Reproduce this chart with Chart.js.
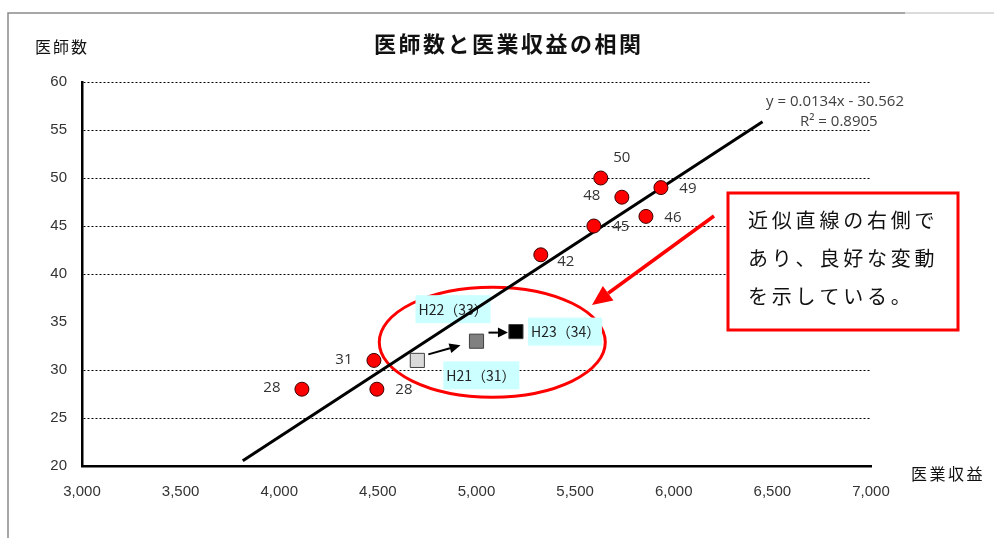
<!DOCTYPE html>
<html lang="ja">
<head>
<meta charset="utf-8">
<script src="https://cdn.jsdelivr.net/npm/chart.js@4/dist/chart.umd.min.js"></script>
<style>
html,body{margin:0;padding:0;background:#fff;}
#wrap{width:994px;height:538px;position:relative;}
canvas{display:block;}
</style>
</head>
<body>
<div id="wrap"><canvas id="c" width="994" height="538"></canvas></div>
<script>
// 医業収益と医師数（年度別）
const revenue = [4115, 4480, 4495, 5326, 5595, 5737, 5630, 5935, 5859];
const doctors = [28, 31, 28, 42, 45, 48, 50, 49, 46];
// where each value label sits around its point
const labelSide = ['left', 'left', 'right', 'rightLow', 'right', 'left', 'above', 'right', 'right'];

// 直近3年度の推移
const yearLabels = ['H21', 'H22', 'H23'];
const yearRevenue = [4700, 5000, 5200];
const yearDoctors = [31, 33, 34];
const yearFill = ['#d9d9d9', '#808080', '#000000'];

// 近似直線
const trendSlope = 0.0134;
const trendIntercept = -30.562;
const trendR2 = 0.8905;
const trendFrom = [3815, 6450];

// 軸目盛
const xTicks = [3000, 3500, 4000, 4500, 5000, 5500, 6000, 6500, 7000];
const yTicks = [20, 25, 30, 35, 40, 45, 50, 55, 60];
const hiddenGrid = [20, 35];

const JP = '"Noto Sans CJK JP", "Noto Sans", sans-serif';
const LAT = '"Open Sans", "Liberation Sans", sans-serif';

const mainPoints = revenue.map((v, i) => ({ x: v, y: doctors[i] }));
const yearPoints = yearRevenue.map((v, i) => ({ x: v, y: yearDoctors[i] }));
const trendPoints = trendFrom.map(v => ({ x: v, y: trendSlope * v + trendIntercept }));

function spaced(ctx, text, x, y, step) {
  [...text].forEach((ch, i) => ctx.fillText(ch, x + i * step, y));
}

function arrow(ctx, x1, y1, x2, y2, color, width, headLen, headHalf) {
  const a = Math.atan2(y2 - y1, x2 - x1);
  const bx = x2 - headLen * Math.cos(a), by = y2 - headLen * Math.sin(a);
  ctx.strokeStyle = color; ctx.fillStyle = color; ctx.lineWidth = width;
  ctx.beginPath(); ctx.moveTo(x1, y1); ctx.lineTo(bx, by); ctx.stroke();
  ctx.beginPath();
  ctx.moveTo(x2, y2);
  ctx.lineTo(bx + headHalf * Math.sin(a), by - headHalf * Math.cos(a));
  ctx.lineTo(bx - headHalf * Math.sin(a), by + headHalf * Math.cos(a));
  ctx.closePath(); ctx.fill();
}

const decor = {
  id: 'decor',
  beforeDatasetsDraw(chart) {
    const { ctx, scales: { x, y } } = chart;
    ctx.save();
    // 直近3年度を囲む楕円
    ctx.strokeStyle = '#ff0000';
    ctx.lineWidth = 3;
    ctx.beginPath();
    ctx.ellipse(x.getPixelForValue(5080), y.getPixelForValue(32.9), 113, 55, 0, 0, Math.PI * 2);
    ctx.stroke();
    // 年度ラベル
    const boxOff = [[26, 1, 76], [-61, -46, 75], [12, -14, 74]];
    ctx.font = '14px ' + JP;
    ctx.textBaseline = 'middle';
    ctx.textAlign = 'left';
    yearLabels.forEach((lab, i) => {
      const px = x.getPixelForValue(yearRevenue[i]);
      const py = y.getPixelForValue(yearDoctors[i]);
      const [dx, dy, w] = boxOff[i];
      ctx.fillStyle = '#ccffff';
      ctx.fillRect(px + dx, py + dy, w, 28);
      ctx.fillStyle = '#222';
      ctx.fillText(lab + '（' + yearDoctors[i] + '）', px + dx + 3, py + dy + 14);
    });
    ctx.restore();
  },
  afterDraw(chart) {
    const { ctx, scales: { x, y } } = chart;
    ctx.save();
    // 外枠
    ctx.lineWidth = 1.5;
    ctx.strokeStyle = '#8a8a8a';
    ctx.beginPath(); ctx.moveTo(8, 538); ctx.lineTo(8, 13); ctx.lineTo(905, 13); ctx.stroke();
    ctx.strokeStyle = '#cfcfcf';
    ctx.beginPath(); ctx.moveTo(905, 13); ctx.lineTo(994, 13); ctx.stroke();

    // タイトル・軸タイトル
    ctx.fillStyle = '#111';
    ctx.textBaseline = 'middle';
    ctx.textAlign = 'left';
    ctx.font = 'bold 22px ' + JP;
    spaced(ctx, '医師数と医業収益の相関', 374, 44, 24.5);
    ctx.font = '16px ' + JP;
    spaced(ctx, '医師数', 35, 47, 18);
    spaced(ctx, '医業収益', 911, 474, 18.5);

    // 値ラベル
    ctx.font = '15px ' + LAT;
    ctx.fillStyle = '#333';
    ctx.textAlign = 'center';
    const off = { left: [-30, -1], right: [27, 1], rightLow: [25, 7], above: [21, -20] };
    revenue.forEach((v, i) => {
      const [dx, dy] = off[labelSide[i]];
      ctx.fillText(String(doctors[i]), x.getPixelForValue(v) + dx, y.getPixelForValue(doctors[i]) + dy);
    });

    // 近似式
    ctx.font = '15px ' + LAT;
    ctx.fillStyle = '#404040';
    ctx.textAlign = 'left';
    ctx.fillText('y = ' + trendSlope + 'x - ' + Math.abs(trendIntercept), 766, 102);
    ctx.fillText('R² = ' + trendR2, 800, 122);

    // 年度間の矢印
    const p = yearRevenue.map((v, i) => [x.getPixelForValue(v), y.getPixelForValue(yearDoctors[i])]);
    arrow(ctx, p[0][0] + 11, p[0][1] - 6, p[1][0] - 16, p[1][1] + 4, '#000', 2, 11, 5);
    arrow(ctx, p[1][0] + 12, p[2][1] + 1, p[2][0] - 8, p[2][1] + 1, '#000', 2, 10, 5);

    // コメント枠
    ctx.fillStyle = '#fff';
    ctx.fillRect(728, 193, 230, 137);
    ctx.strokeStyle = '#ff0000';
    ctx.lineWidth = 3;
    ctx.strokeRect(728, 193, 230, 137);
    ctx.fillStyle = '#111';
    ctx.font = '20px ' + JP;
    ctx.textAlign = 'left';
    spaced(ctx, '近似直線の右側で', 748, 220, 23.8);
    spaced(ctx, 'あり、良好な変動', 748, 258, 23.8);
    spaced(ctx, 'を示している。', 748, 296, 23.8);

    // 赤矢印
    arrow(ctx, 714, 216, 592, 305, '#ff0000', 3.5, 20, 9);
    ctx.restore();
  }
};

new Chart(document.getElementById('c'), {
  type: 'scatter',
  data: {
    datasets: [
      {
        label: '近似直線',
        data: trendPoints,
        showLine: true,
        borderColor: '#000',
        borderWidth: 3,
        pointRadius: 0,
        order: 3
      },
      {
        label: '医師数',
        data: mainPoints,
        pointRadius: 7,
        pointBackgroundColor: '#ff0000',
        pointBorderColor: '#3a0000',
        pointBorderWidth: 1,
        order: 1
      },
      {
        label: '年度',
        data: yearPoints,
        pointStyle: 'rect',
        pointRadius: 10,
        pointBackgroundColor: yearFill,
        pointBorderColor: '#404040',
        pointBorderWidth: 1,
        order: 2
      }
    ]
  },
  options: {
    responsive: false,
    animation: false,
    layout: { padding: { left: 0, right: 123, top: 82, bottom: 0 } },
    plugins: { legend: { display: false }, tooltip: { enabled: false }, title: { display: false } },
    scales: {
      x: {
        type: 'linear',
        min: xTicks[0],
        max: xTicks[xTicks.length - 1],
        afterBuildTicks: s => { s.ticks = xTicks.map(v => ({ value: v })); },
        afterFit: s => { s.height = 72; },
        grid: { color: 'rgba(0,0,0,0)', drawTicks: false },
        border: { display: true, color: '#000', width: 2.5 },
        ticks: {
          padding: 17,
          color: '#333',
          font: { family: 'Liberation Sans', size: 15 },
          callback: v => v.toLocaleString('en-US')
        }
      },
      y: {
        type: 'linear',
        min: yTicks[0],
        max: yTicks[yTicks.length - 1],
        afterBuildTicks: s => { s.ticks = yTicks.map(v => ({ value: v })); },
        afterFit: s => { s.width = 82; },
        grid: {
          color: c => (c.tick && hiddenGrid.includes(c.tick.value)) ? 'rgba(0,0,0,0)' : '#000',
          lineWidth: 1,
          drawTicks: false
        },
        border: { display: true, color: '#000', width: 2.5, dash: [2, 2] },
        ticks: {
          padding: 15,
          color: '#333',
          font: { family: 'Liberation Sans', size: 15 }
        }
      }
    }
  },
  plugins: [decor]
});
</script>
</body>
</html>
